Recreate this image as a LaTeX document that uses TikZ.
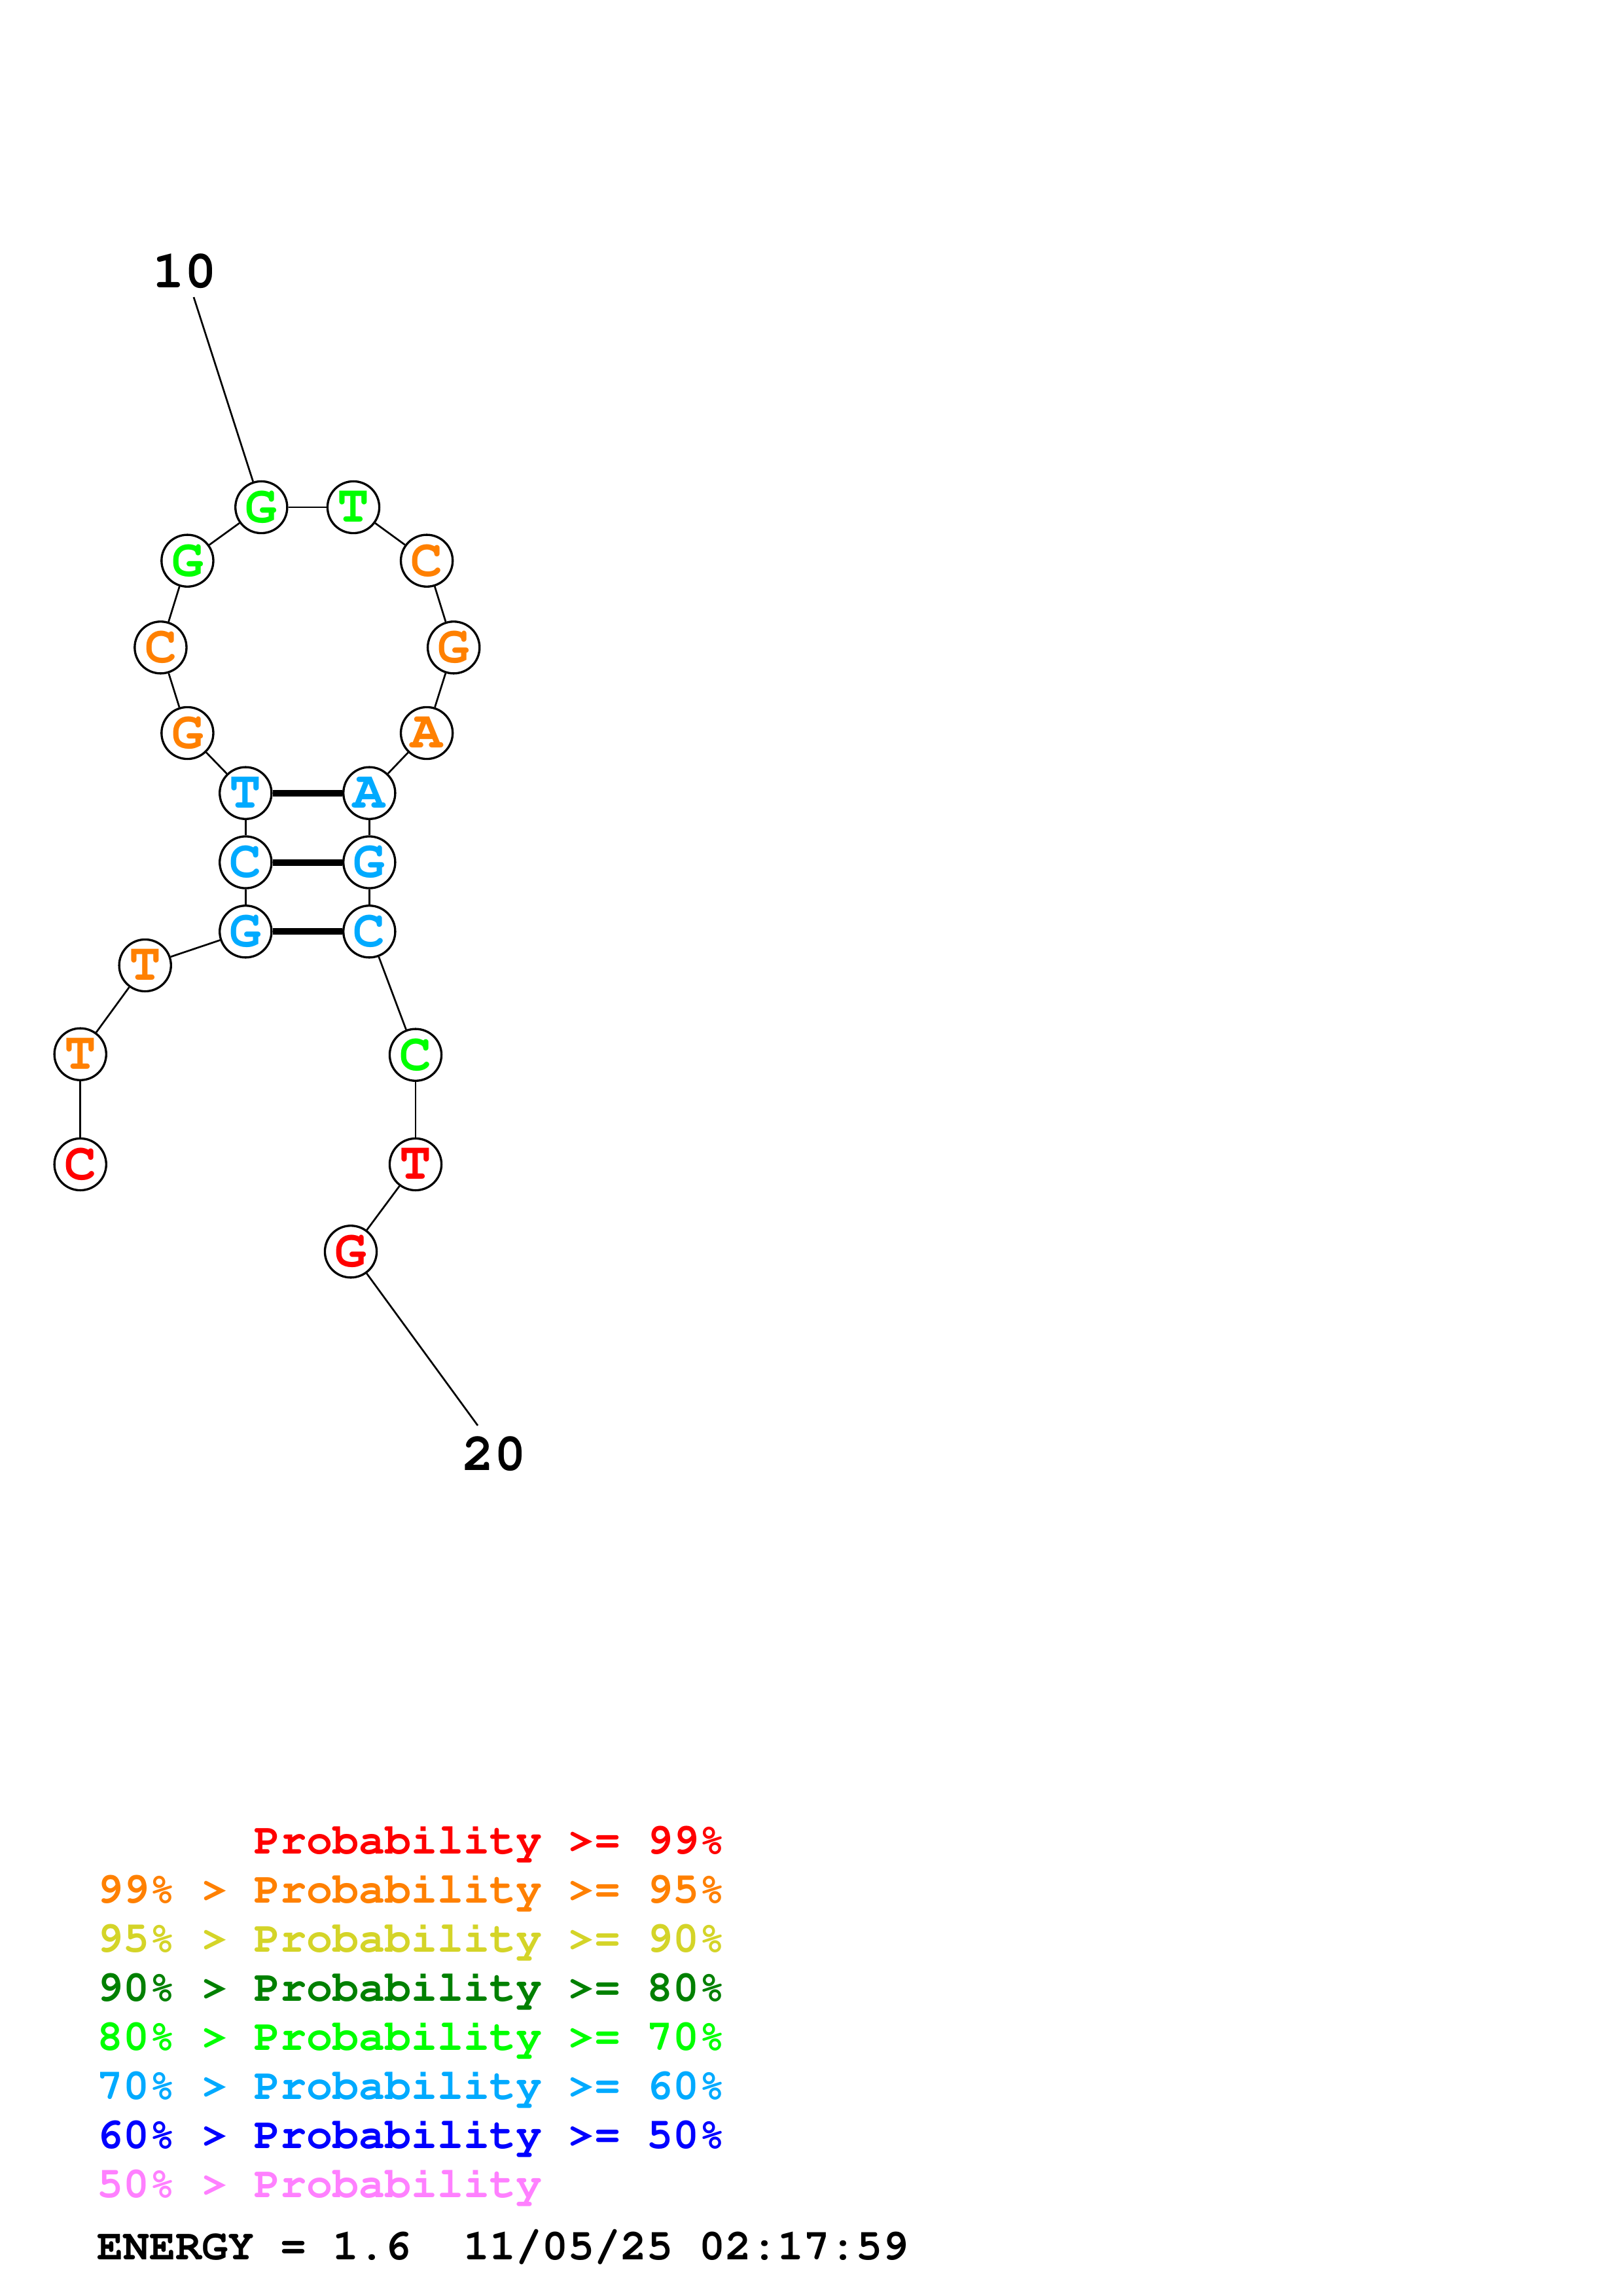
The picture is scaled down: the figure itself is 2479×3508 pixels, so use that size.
\documentclass[tikz,border=0pt]{standalone}
\usepackage[T1]{fontenc}
\definecolor{cRed}{RGB}{255,0,0}
\definecolor{cOrange}{RGB}{255,128,0}
\definecolor{cYellow}{RGB}{212,212,40}
\definecolor{cDGreen}{RGB}{0,128,0}
\definecolor{cLime}{RGB}{0,255,0}
\definecolor{cSky}{RGB}{0,170,255}
\definecolor{cBlue}{RGB}{0,0,255}
\definecolor{cPink}{RGB}{255,128,255}
\newcommand\crfont[1]{\fontfamily{pcr}\fontseries{b}\fontshape{n}\fontsize{#1}{#1}\selectfont}
\tikzset{
  nuc/.style={circle, draw=black, line width=0.8pt, fill=white, minimum size=19pt, inner sep=0pt, font=\crfont{19.5pt}},
  bb/.style={draw=black, line width=0.65pt},
  pairline/.style={draw=black, line width=2.4pt},
  lbl/.style={inner sep=0pt, font=\crfont{19.5pt}, text=black},
  leg/.style={anchor=base west, inner sep=0pt, font=\crfont{16pt}}
}
\begin{document}
\begin{tikzpicture}[x=0.24pt,y=-0.24pt]
\useasboundingbox (0,0) rectangle (2479,3508);
\fill[white] (0,0) rectangle (2479,3508);
% nucleotides
\node[nuc, text=cRed]    (n1)  at (122.7,1779)   {C};
\node[nuc, text=cOrange] (n2)  at (122.7,1610.7) {T};
\node[nuc, text=cOrange] (n3)  at (221.7,1475)   {T};
\node[nuc, text=cSky]    (n4)  at (375.3,1423.3) {G};
\node[nuc, text=cSky]    (n5)  at (375.3,1317.5) {C};
\node[nuc, text=cSky]    (n6)  at (375.3,1211.7) {T};
\node[nuc, text=cOrange] (n7)  at (286.4,1120)   {G};
\node[nuc, text=cOrange] (n8)  at (245.4,989.3)  {C};
\node[nuc, text=cLime]   (n9)  at (286.4,856.7)  {G};
\node[nuc, text=cLime]   (n10) at (399.3,775)    {G};
\node[nuc, text=cLime]   (n11) at (540,775)      {T};
\node[nuc, text=cOrange] (n12) at (652.1,856.7)  {C};
\node[nuc, text=cOrange] (n13) at (693.2,989.3)  {G};
\node[nuc, text=cOrange] (n14) at (652.1,1120)   {A};
\node[nuc, text=cSky]    (n15) at (564.3,1211.7) {A};
\node[nuc, text=cSky]    (n16) at (564.3,1317.5) {G};
\node[nuc, text=cSky]    (n17) at (564.3,1423.3) {C};
\node[nuc, text=cLime]   (n18) at (635,1611.7)   {C};
\node[nuc, text=cRed]    (n19) at (635,1779)     {T};
\node[nuc, text=cRed]    (n20) at (536,1912.3)   {G};
% backbone
\foreach \a/\b in {n1/n2,n2/n3,n3/n4,n4/n5,n5/n6,n6/n7,n7/n8,n8/n9,n9/n10,n10/n11,n11/n12,n12/n13,n13/n14,n14/n15,n15/n16,n16/n17,n17/n18,n18/n19,n19/n20}
  \draw[bb] (\a) -- (\b);
% base pairs
\draw[pairline] (n6) -- (n15);
\draw[pairline] (n5) -- (n16);
\draw[pairline] (n4) -- (n17);
% position labels
\node[lbl] (l10) at (282,415) {10};
\coordinate (e10) at (296,454);
\draw[bb] (n10) -- (e10);
\node[lbl] (l20) at (755,2222) {20};
\coordinate (e20) at (730,2178);
\draw[bb] (n20) -- (e20);
% legend
\node[leg, text=cRed]    (g1) at (148,2832) {\hphantom{99\%\ >\ }Probability >= 99\%};
\node[leg, text=cOrange] (g2) at (148,2907) {99\%\ >\ Probability >= 95\%};
\node[leg, text=cYellow] (g3) at (148,2982) {95\%\ >\ Probability >= 90\%};
\node[leg, text=cDGreen] (g4) at (148,3057) {90\%\ >\ Probability >= 80\%};
\node[leg, text=cLime]   (g5) at (148,3132) {80\%\ >\ Probability >= 70\%};
\node[leg, text=cSky]    (g6) at (148,3207) {70\%\ >\ Probability >= 60\%};
\node[leg, text=cBlue]   (g7) at (148,3282) {60\%\ >\ Probability >= 50\%};
\node[leg, text=cPink]   (g8) at (148,3357) {50\%\ >\ Probability};
\node[leg, text=black]   (en) at (148,3452) {ENERGY = 1.6\ \ 11/05/25 02:17:59};
\end{tikzpicture}
\end{document}
